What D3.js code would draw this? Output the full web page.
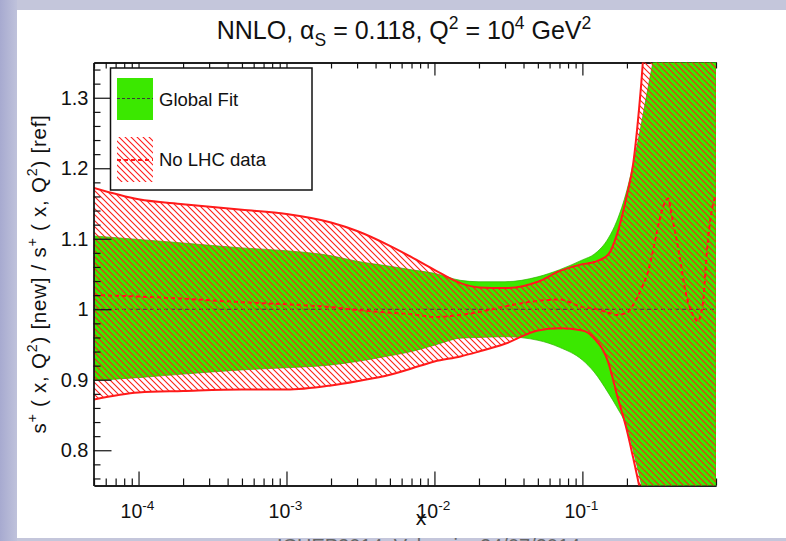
<!DOCTYPE html>
<html>
<head>
<meta charset="utf-8">
<script src="https://cdn.jsdelivr.net/npm/d3@7"></script>
<style>
  html, body { margin: 0; padding: 0; background: #c4c6db; }
  svg { display: block; font-family: "Liberation Sans", Arial, Helvetica, sans-serif; }
</style>
</head>
<body>
<svg id="chart" width="786" height="541"></svg>
<script>
// ---- data: s+ ratio bands at Q^2 = 10^4 GeV^2 ----
const xGrid = [5e-5, 1e-4, 2e-4, 5e-4, 1e-3, 2e-3, 3e-3, 5e-3, 7e-3, 1e-2, 1.5e-2, 2e-2, 3e-2, 5e-2, 7e-2,
               0.1, 0.12, 0.15, 0.17, 0.2, 0.22, 0.25, 0.28, 0.3, 0.35, 0.4, 0.5, 0.6, 0.7, 0.8];

// Global Fit band (upper / lower edge)
const globalUpper = [1.104, 1.099, 1.094, 1.087, 1.083, 1.076, 1.068, 1.061, 1.056, 1.051, 1.041, 1.039, 1.039, 1.046, 1.056,
                     1.070, 1.078, 1.101, 1.124, 1.169, 1.205, 1.262, 1.318, 1.351, 1.43, 1.52, 1.68, 1.82, 1.95, 2.05];
const globalLower = [0.899, 0.903, 0.908, 0.914, 0.917, 0.921, 0.926, 0.934, 0.940, 0.949, 0.959, 0.960, 0.961, 0.956, 0.946,
                     0.928, 0.911, 0.881, 0.862, 0.832, 0.800, 0.752, 0.70, 0.66, 0.58, 0.50, 0.38, 0.28, 0.20, 0.12];

// No LHC data band (upper / lower edge)
const noLhcUpper = [1.172, 1.156, 1.149, 1.141, 1.135, 1.123, 1.111, 1.090, 1.074, 1.056, 1.037, 1.031, 1.030, 1.039, 1.054,
                    1.064, 1.067, 1.078, 1.104, 1.162, 1.205, 1.32, 1.46, 1.56, 1.75, 1.95, 2.3, 2.6, 2.9, 3.2];
const noLhcLower = [0.872, 0.882, 0.884, 0.886, 0.886, 0.892, 0.898, 0.907, 0.916, 0.926, 0.933, 0.940, 0.951, 0.970, 0.973,
                    0.970, 0.959, 0.924, 0.881, 0.828, 0.790, 0.735, 0.68, 0.64, 0.56, 0.48, 0.36, 0.26, 0.18, 0.10];

// No LHC data central value
const noLhcCentralX = [5e-5, 1e-4, 2e-4, 5e-4, 1e-3, 2e-3, 3e-3, 5e-3, 7e-3, 1e-2, 1.5e-2, 2e-2, 3e-2, 5e-2, 7e-2,
                       0.1, 0.12, 0.15, 0.17, 0.2, 0.22, 0.25, 0.28, 0.3, 0.33, 0.36, 0.38, 0.4, 0.45, 0.5,
                       0.55, 0.6, 0.65, 0.7, 0.75, 0.8];
const noLhcCentral = [1.020, 1.018, 1.015, 1.010, 1.007, 1.003, 0.999, 0.995, 0.993, 0.989, 0.992, 0.996, 1.004, 1.012, 1.014,
                      1.003, 1.001, 0.995, 0.992, 0.995, 1.006, 1.029, 1.056, 1.083, 1.124, 1.151, 1.157, 1.135, 1.080, 1.023,
                      0.995, 0.983, 1.006, 1.091, 1.141, 1.162];

// Global Fit central value (reference)
const globalCentral = 1.0;

// axes
const xMajor = [1e-4, 1e-3, 1e-2, 1e-1];
const xMajorExp = ["-4", "-3", "-2", "-1"];
const yMajor = [0.8, 0.9, 1.0, 1.1, 1.2, 1.3];
const yMajorLabels = ["0.8", "0.9", "1", "1.1", "1.2", "1.3"];

const legendLabels = ["Global Fit", "No LHC data"];

// ---- layout ----
const W = 786, H = 541;
const plot = { left: 94, right: 716, top: 62.5, bottom: 485.5 };
const GREEN = "#3be800";
const RED = "#ff1a1a";

const svg = d3.select("#chart");
const defs = svg.append("defs");

// slide background
const grad = defs.append("linearGradient").attr("id", "sideGrad").attr("x1", 0).attr("x2", 1);
grad.append("stop").attr("offset", 0).attr("stop-color", "#a7aad0");
grad.append("stop").attr("offset", 1).attr("stop-color", "#bfc2db");
svg.append("rect").attr("width", W).attr("height", H).attr("fill", "#c4c6db");
svg.append("rect").attr("width", 17).attr("height", H).attr("fill", "url(#sideGrad)");
svg.append("rect").attr("x", 17).attr("y", 10).attr("width", W - 17).attr("height", 528).attr("fill", "#ffffff");

// footer line of the slide (mostly below the visible area)
svg.append("text").attr("x", 277).attr("y", 553).attr("font-size", 20).attr("fill", "#666")
  .text("ICHEP2014, Valencia, 24/07/2014");

// hatch pattern
const hatch = defs.append("pattern").attr("id", "hatch").attr("patternUnits", "userSpaceOnUse")
  .attr("width", 6).attr("height", 6);
hatch.append("path").attr("d", "M-1,-1 L7,7 M-1,5 L1,7 M5,-1 L7,1")
  .attr("stroke", RED).attr("stroke-width", 1.1).attr("fill", "none");

defs.append("clipPath").attr("id", "plotClip").append("rect")
  .attr("x", plot.left).attr("y", plot.top)
  .attr("width", plot.right - plot.left).attr("height", plot.bottom - plot.top);

// scales
const x = d3.scaleLog().domain([5e-5, 0.8]).range([plot.left, plot.right]);
const y = d3.scaleLinear().domain([0.75, 1.35]).range([plot.bottom, plot.top]);

// rich text helper (superscripts / subscripts)
function rich(sel, parts, size) {
  let shift = 0;
  parts.forEach(p => {
    const target = p.sup ? -0.42 * size : p.sub ? 0.28 * size : 0;
    const ts = sel.append("tspan").text(p.t).attr("dy", target - shift);
    if (p.sup || p.sub) ts.attr("font-size", size * 0.7);
    shift = target;
  });
}

// title
const title = svg.append("text").attr("x", 404).attr("y", 39).attr("text-anchor", "middle")
  .attr("font-size", 25).attr("fill", "#111");
rich(title, [
  { t: "NNLO, α" }, { t: "S", sub: true }, { t: " = 0.118, Q" }, { t: "2", sup: true },
  { t: " = 10" }, { t: "4", sup: true }, { t: " GeV" }, { t: "2", sup: true }
], 25);

// minor tick positions
const xMinor = [];
[1e-5, 1e-4, 1e-3, 1e-2, 1e-1].forEach(d => {
  for (let m = 2; m <= 9; m++) {
    const v = d * m;
    if (v >= 5e-5 && v <= 0.8) xMinor.push(v);
  }
});
const yMinor = d3.range(38, 68, 1).map(i => +(i * 0.02).toFixed(2)).filter(v => !yMajor.some(m => Math.abs(m - v) < 1e-6));

function styleAxis(g) {
  g.selectAll("path.domain").attr("stroke", "#111").attr("stroke-width", 1.3);
  g.selectAll(".tick line").attr("stroke", "#111").attr("stroke-width", 1.2);
  g.selectAll(".tick text").remove();
}

// bottom axis
const bottomAxis = svg.append("g").attr("transform", `translate(0,${plot.bottom})`);
bottomAxis.append("g").call(d3.axisBottom(x).tickValues(xMinor).tickSize(-7).tickSizeOuter(0)).call(styleAxis);
bottomAxis.append("g").call(d3.axisBottom(x).tickValues(xMajor).tickSize(-14).tickSizeOuter(0)).call(styleAxis);
// top axis
const topAxis = svg.append("g").attr("transform", `translate(0,${plot.top})`);
topAxis.append("g").call(d3.axisTop(x).tickValues(xMinor).tickSize(-6).tickSizeOuter(0)).call(styleAxis);
topAxis.append("g").call(d3.axisTop(x).tickValues(xMajor).tickSize(-13).tickSizeOuter(0)).call(styleAxis);

// bands
const bandData = xGrid.map((v, i) => ({
  x: v, gu: globalUpper[i], gl: globalLower[i], ru: noLhcUpper[i], rl: noLhcLower[i]
}));
const curve = d3.curveMonotoneX;
const area = (hi, lo) => d3.area().curve(curve).x(d => x(d.x)).y0(d => y(d[lo])).y1(d => y(d[hi]));
const edge = key => d3.line().curve(curve).x(d => x(d.x)).y(d => y(d[key]));

const bands = svg.append("g").attr("clip-path", "url(#plotClip)");
bands.append("path").datum(bandData).attr("d", area("gu", "gl")).attr("fill", GREEN);
bands.append("path").datum(bandData).attr("d", area("gu", "gl"))
  .attr("fill", "none").attr("stroke", "#2fb400").attr("stroke-width", 1).attr("stroke-opacity", 0.7);

// Global Fit central line
bands.append("line").attr("x1", plot.left).attr("x2", plot.right)
  .attr("y1", y(globalCentral)).attr("y2", y(globalCentral))
  .attr("stroke", "#3a3a3a").attr("stroke-width", 1).attr("stroke-dasharray", "4,3");

// No LHC hatched band with solid edges
bands.append("path").datum(bandData).attr("d", area("ru", "rl")).attr("fill", "url(#hatch)");
["ru", "rl"].forEach(k => {
  bands.append("path").datum(bandData).attr("d", edge(k))
    .attr("fill", "none").attr("stroke", RED).attr("stroke-width", 2);
});

// No LHC central line
bands.append("path")
  .datum(noLhcCentralX.map((v, i) => [v, noLhcCentral[i]]))
  .attr("d", d3.line().curve(curve).x(d => x(d[0])).y(d => y(d[1])))
  .attr("fill", "none").attr("stroke", RED).attr("stroke-width", 2).attr("stroke-dasharray", "4,3");

// left axis
const leftAxis = svg.append("g").attr("transform", `translate(${plot.left - 0.5},0)`);
leftAxis.append("g").call(d3.axisLeft(y).tickValues(yMinor).tickSize(-7).tickSizeOuter(0)).call(styleAxis);
const leftMajor = leftAxis.append("g").call(d3.axisLeft(y).tickValues(yMajor).tickSize(-18).tickSizeOuter(0)
  .tickPadding(5).tickFormat((d, i) => yMajorLabels[i]));
leftMajor.selectAll("path.domain").attr("stroke", "#111").attr("stroke-width", 1.3);
leftMajor.selectAll(".tick line").attr("stroke", "#111").attr("stroke-width", 1.2);
leftMajor.selectAll(".tick text").attr("font-size", 20).attr("fill", "#111")
  .attr("font-family", "Liberation Sans, Arial, sans-serif");

// x tick labels 10^n
xMajor.forEach((v, i) => {
  const t = svg.append("text").attr("x", x(v) - 1).attr("y", 518).attr("text-anchor", "middle")
    .attr("font-size", 19.5).attr("fill", "#111");
  rich(t, [{ t: "10" }, { t: xMajorExp[i], sup: true }], 19.5);
});

// axis titles
svg.append("text").attr("x", 421).attr("y", 525).attr("text-anchor", "middle")
  .attr("font-size", 21).attr("fill", "#111").text("x");

const yTitle = svg.append("text").attr("transform", "translate(46,274) rotate(-90)")
  .attr("text-anchor", "middle").attr("font-size", 20.5).attr("letter-spacing", 0.75).attr("fill", "#111");
rich(yTitle, [
  { t: "s" }, { t: "+", sup: true }, { t: " ( x, Q" }, { t: "2", sup: true }, { t: ") [new] / s" },
  { t: "+", sup: true }, { t: " ( x, Q" }, { t: "2", sup: true }, { t: ") [ref]" }
], 20.5);

// legend
const lg = svg.append("g");
lg.append("rect").attr("x", 110.5).attr("y", 68).attr("width", 201.5).attr("height", 122)
  .attr("fill", "#fff").attr("stroke", "#111").attr("stroke-width", 1.5);
lg.append("rect").attr("x", 117).attr("y", 78).attr("width", 36).attr("height", 42).attr("fill", GREEN);
lg.append("line").attr("x1", 117).attr("x2", 153).attr("y1", 98.5).attr("y2", 98.5)
  .attr("stroke", "#3a3a3a").attr("stroke-width", 1).attr("stroke-dasharray", "3,2");
lg.append("rect").attr("x", 117).attr("y", 137).attr("width", 36).attr("height", 45).attr("fill", "url(#hatch)");
lg.append("line").attr("x1", 117).attr("x2", 153).attr("y1", 160).attr("y2", 160)
  .attr("stroke", RED).attr("stroke-width", 2).attr("stroke-dasharray", "4,3");
lg.append("text").attr("x", 159).attr("y", 106).attr("font-size", 18.5).attr("fill", "#111").text(legendLabels[0]);
lg.append("text").attr("x", 159).attr("y", 166).attr("font-size", 18.5).attr("fill", "#111").text(legendLabels[1]);
</script>
</body>
</html>
